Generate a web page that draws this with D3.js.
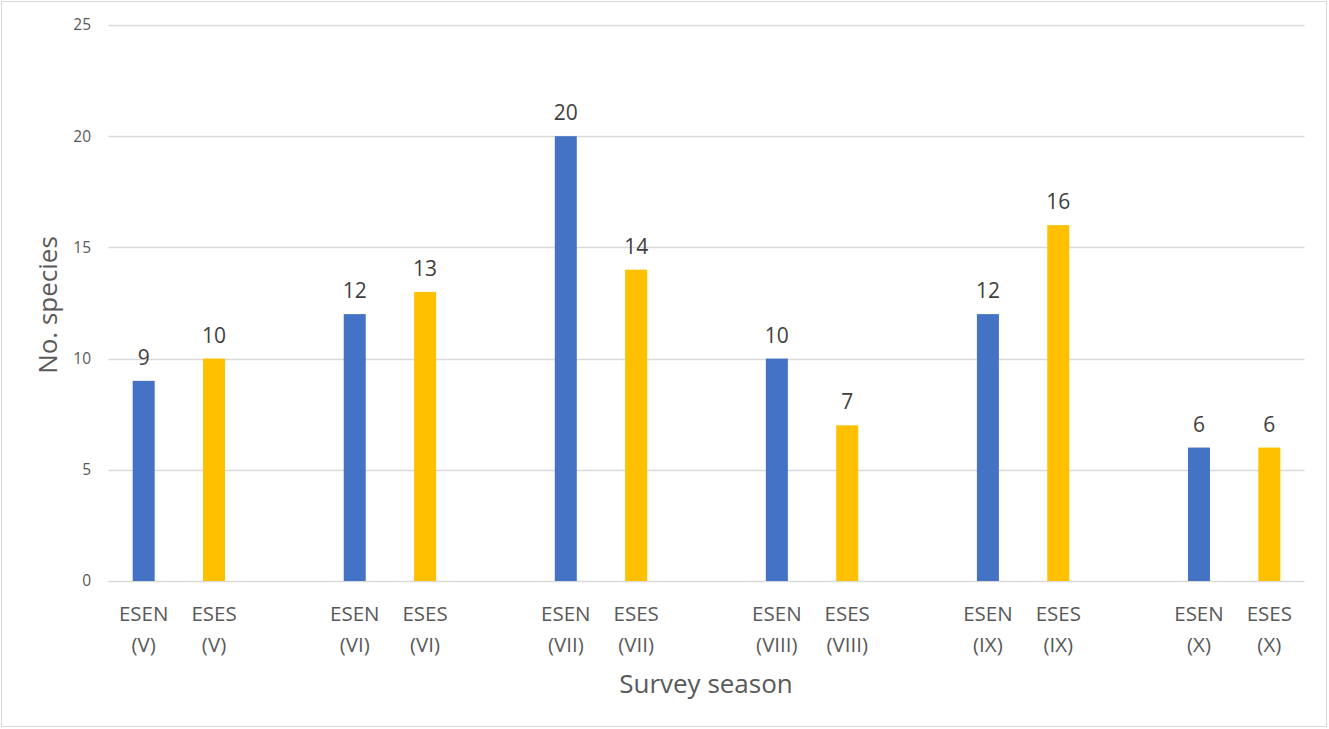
<!DOCTYPE html>
<html><head><meta charset="utf-8">
<script src="https://cdn.jsdelivr.net/npm/d3@7"></script>
<style>body{margin:0;background:#fff;} svg{display:block;font-family:"Open Sans",sans-serif;}</style>
</head><body><svg id="c" width="1329" height="729"></svg>
<script>
const seasons = ["V","VI","VII","VIII","IX","X"];
const seriesNames = ["ESEN","ESES"];
const esen = [9,12,20,10,12,6];
const eses = [10,13,14,7,16,6];
const yTicks = [0,5,10,15,20,25];
const colors = ["#4472C4","#FFC000"];

const svg = d3.select("#c");
svg.append("rect").attr("x",1.5).attr("y",1.5).attr("width",1325).attr("height",725)
  .attr("fill","#fff").attr("stroke","#d9d9d9");

const slots = d3.range(seasons.length*3-1);
const x = d3.scaleBand().domain(slots).range([108.5,1304.5]).padding(0);
const y = d3.scaleLinear().domain([0,25]).range([581,25]);

const g = svg.append("g");
g.selectAll("line.grid").data(yTicks).join("line")
  .attr("x1",108.5).attr("x2",1304.5)
  .attr("y1",d=>Math.round(y(d))+0.5).attr("y2",d=>Math.round(y(d))+0.5)
  .attr("stroke","#d9d9d9").attr("stroke-width",1.3);

const yAxis = d3.axisLeft(y).tickValues(yTicks).tickSize(0).tickPadding(0);
const ya = svg.append("g").attr("transform","translate(91,0)").call(yAxis);
ya.select(".domain").remove();
ya.selectAll("text").attr("fill","#595959").style("font-size","15.5px").style("font-family","'Open Sans',sans-serif");

const data = [];
seasons.forEach((s,i)=>{
  [esen[i],eses[i]].forEach((v,j)=>data.push({slot:i*3+j,season:s,series:seriesNames[j],value:v,color:colors[j]}));
});
const bw = 22;
g.selectAll("rect.bar").data(data).join("rect")
  .attr("x",d=>x(d.slot)+x.bandwidth()/2-bw/2)
  .attr("width",bw)
  .attr("y",d=>y(d.value))
  .attr("height",d=>y(0)-y(d.value))
  .attr("fill",d=>d.color);

g.selectAll("text.val").data(data).join("text")
  .attr("x",d=>x(d.slot)+x.bandwidth()/2)
  .attr("y",d=>y(d.value)-16)
  .attr("text-anchor","middle").attr("fill","#404040").style("font-size","21px")
  .text(d=>d.value);

const lab = g.selectAll("text.cat").data(data).join("text")
  .attr("text-anchor","middle").attr("fill","#595959").style("font-size","20.5px");
lab.append("tspan").attr("x",d=>x(d.slot)+x.bandwidth()/2).attr("y",621).text(d=>d.series);
lab.append("tspan").attr("x",d=>x(d.slot)+x.bandwidth()/2).attr("y",652).text(d=>"("+d.season+")");

svg.append("text").attr("x",706).attr("y",693).attr("text-anchor","middle")
  .attr("fill","#595959").style("font-size","26px").text("Survey season");
svg.append("text").attr("transform","translate(57,305) rotate(-90)").attr("text-anchor","middle")
  .attr("fill","#595959").style("font-size","26px").text("No. species");
</script></body></html>
